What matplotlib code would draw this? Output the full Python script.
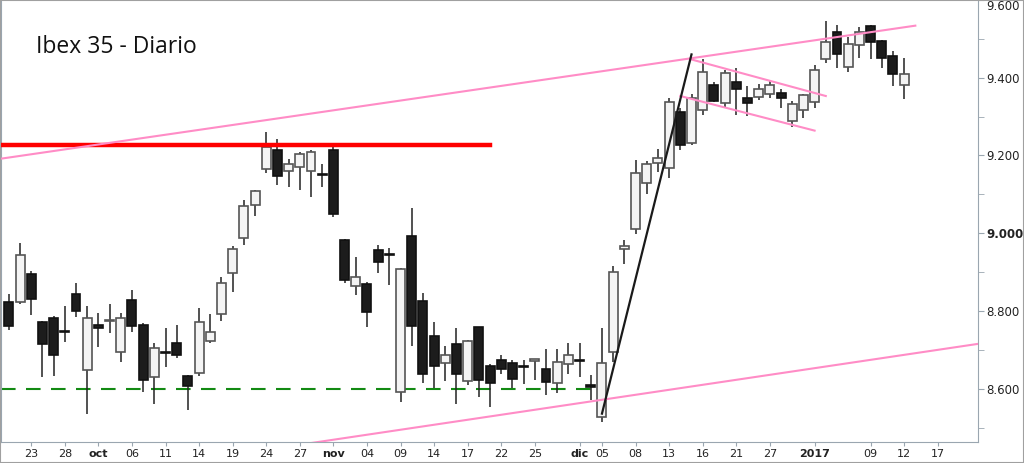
import matplotlib
matplotlib.use("Agg")
import matplotlib.pyplot as plt
import pandas as pd
from matplotlib.patches import Rectangle

# Ibex 35 daily candles, 21 Sep 2016 - 12 Jan 2017
opens = [8824, 8824, 8895, 8771, 8782, 8748, 8843, 8648, 8763, 8774,
         8694, 8828, 8764, 8630, 8694, 8717, 8633, 8641, 8724, 8791,
         8897, 8987, 9072, 9164, 9214, 9160, 9170, 9160, 9153, 9214,
         8982, 8864, 8869, 8957, 8946, 8592, 8992, 8826, 8736, 8665,
         8714, 8620, 8758, 8659, 8673, 8665, 8658, 8671, 8652, 8614,
         8664, 8675, 8609, 8528, 8695, 8959, 9012, 9128, 9180, 9168,
         9312, 9233, 9317, 9381, 9334, 9388, 9347, 9351, 9358, 9360,
         9289, 9317, 9338, 9448, 9518, 9428, 9484, 9533, 9495, 9456, 9381]
highs = [8845, 8975, 8903, 8774, 8786, 8813, 8873, 8813, 8795, 8818,
         8795, 8854, 8770, 8717, 8757, 8765, 8635, 8807, 8791, 8888,
         8967, 9085, 9110, 9261, 9242, 9192, 9210, 9214, 9179, 9222,
         8984, 8940, 8875, 8970, 8963, 8910, 9064, 8847, 8771, 8710,
         8755, 8725, 8760, 8664, 8688, 8674, 8674, 8677, 8702, 8702,
         8718, 8717, 8635, 8755, 8916, 8982, 9188, 9186, 9216, 9347,
         9323, 9358, 9449, 9390, 9420, 9424, 9379, 9383, 9394, 9371,
         9340, 9357, 9434, 9546, 9535, 9505, 9531, 9535, 9498, 9469, 9452]
lows = [8751, 8819, 8790, 8629, 8633, 8719, 8785, 8536, 8708, 8744,
        8669, 8747, 8592, 8562, 8657, 8678, 8545, 8633, 8717, 8774,
        8849, 8970, 9044, 9154, 9124, 9120, 9111, 9094, 9118, 9042,
        8871, 8841, 8758, 8898, 8867, 8567, 8710, 8614, 8603, 8620,
        8561, 8610, 8578, 8554, 8639, 8603, 8611, 8622, 8584, 8588,
        8638, 8631, 8571, 8515, 8669, 8920, 8999, 9101, 9158, 9141,
        9214, 9228, 9304, 9338, 9325, 9304, 9302, 9342, 9349, 9321,
        9274, 9297, 9323, 9437, 9424, 9415, 9451, 9447, 9426, 9379, 9345]
closes = [8762, 8944, 8830, 8714, 8688, 8745, 8801, 8783, 8755, 8776,
          8783, 8761, 8622, 8704, 8692, 8687, 8607, 8772, 8745, 8872,
          8959, 9070, 9108, 9222, 9148, 9179, 9205, 9208, 9151, 9049,
          8880, 8887, 8798, 8927, 8944, 8908, 8761, 8639, 8659, 8688,
          8638, 8723, 8622, 8614, 8652, 8626, 8656, 8676, 8618, 8668,
          8688, 8671, 8605, 8665, 8901, 8968, 9156, 9178, 9193, 9338,
          9227, 9347, 9415, 9341, 9411, 9372, 9336, 9371, 9381, 9348,
          9332, 9355, 9419, 9492, 9461, 9486, 9517, 9491, 9452, 9410, 9409]

# trading days (BME closed 26 Dec 2016); axis runs to 17 Jan 2017
days = pd.bdate_range("2016-09-21", "2017-01-17").drop(pd.Timestamp("2016-12-26"))

tick_dates = ["2016-09-23", "2016-09-28", "2016-10-03", "2016-10-06", "2016-10-11",
              "2016-10-14", "2016-10-19", "2016-10-24", "2016-10-27", "2016-11-01",
              "2016-11-04", "2016-11-09", "2016-11-14", "2016-11-17", "2016-11-22",
              "2016-11-25", "2016-12-01", "2016-12-05", "2016-12-08", "2016-12-13",
              "2016-12-16", "2016-12-21", "2016-12-27", "2017-01-02", "2017-01-09",
              "2017-01-12", "2017-01-17"]
tick_labels = ["23", "28", "oct", "06", "11", "14", "19", "24", "27", "nov", "04",
               "09", "14", "17", "22", "25", "dic", "05", "08", "13", "16", "21",
               "27", "2017", "09", "12", "17"]
bold_labels = ["oct", "nov", "dic", "2017"]

price_ticks = [8600, 8800, 9000, 9200, 9400, 9600]
price_labels = ["8.600", "8.800", "9.000", "9.200", "9.400", "9.600"]

resistance = 9228     # red line
support = 8600        # green dashed line
# trend / channel lines as (date, price) end points
chan_top = [("2016-09-20", 9192), ("2017-01-13", 9534)]
chan_bottom = [("2016-10-27", 8456), ("2017-01-23", 8718)]
flag_top = [("2016-12-15", 9447), ("2017-01-03", 9353)]
flag_bottom = [("2016-12-14", 9353), ("2017-01-02", 9264)]
rally = [("2016-12-05", 8536), ("2016-12-15", 9460)]


def pos(d):
    # position on the trading-day axis, fractional for dates off the calendar
    d = pd.Timestamp(d)
    if d < days[0]:
        return -(days[0] - d).days * 0.66
    if d > days[-1]:
        return len(days) - 1 + (d - days[-1]).days * 0.7
    return days.get_indexer([d], method="nearest")[0]


fig = plt.figure(figsize=(10.24, 4.63), dpi=100)
ax = fig.add_axes([1 / 1024, 21 / 463, 977 / 1024, 442 / 463])

x = list(range(len(opens)))
up = [c >= o for o, c in zip(opens, closes)]
body_col = ["#f4f4f4" if u else "#1c1c1c" for u in up]
edge_col = ["#555555" if u else "#111111" for u in up]
bottoms = [min(o, c) for o, c in zip(opens, closes)]
heights = [max(abs(c - o), 1.5) for o, c in zip(opens, closes)]

ax.vlines(x, lows, highs, color="#222222", lw=1.1, zorder=2)
ax.bar(x, heights, bottom=bottoms, width=0.8, color=body_col,
       edgecolor=edge_col, linewidth=1.2, zorder=3)

x0, x1 = -0.7, 86.6
ax.plot([x0, pos("2016-11-21")], [resistance] * 2, color="#ff0000", lw=3.2, zorder=4)
ax.plot([x0, pos("2016-12-05")], [support] * 2, color="#138a13", lw=1.5,
        dashes=(7, 5), zorder=1)

pink = "#ff8cc6"
for seg in (chan_top, chan_bottom, flag_top, flag_bottom):
    ax.plot([pos(d) for d, _ in seg], [p for _, p in seg], color=pink, lw=1.5, zorder=4)
ax.plot([pos(d) for d, _ in rally], [p for _, p in rally], color="#1a1a1a", lw=1.6, zorder=5)

ax.set_xlim(x0, x1)
ax.set_ylim(8463, 9600)

ax.set_xticks([pos(d) for d in tick_dates])
ax.set_xticklabels(tick_labels)
for lbl in ax.get_xticklabels():
    lbl.set_fontsize(8)
    lbl.set_color("#222222")
    if lbl.get_text() in bold_labels:
        lbl.set_fontweight("bold")
ax.tick_params(axis="x", length=3, color="#9aa6b0", pad=2)

ax.yaxis.tick_right()
ax.set_yticks(price_ticks)
ax.set_yticks([8500, 8700, 8900, 9100, 9300, 9500], minor=True)
ax.set_yticklabels(price_labels)
ax.tick_params(axis="y", which="both", length=4, color="#9aa6b0", pad=2,
               labelsize=8.5, labelcolor="#222222")
for lbl in ax.get_yticklabels():
    if lbl.get_text() == "9.000":
        lbl.set_fontweight("bold")
    if lbl.get_text() == "9.600":
        lbl.set_verticalalignment("top")

for side in ("left", "right", "bottom"):
    ax.spines[side].set_color("#9aa6b0")
ax.spines["top"].set_visible(False)

ax.text(0.036, 0.893, "Ibex 35 - Diario", transform=ax.transAxes,
        fontsize=16.5, family="Open Sans", va="center", ha="left", color="#111111")

fig.patches.append(Rectangle((0, 0), 1, 1, transform=fig.transFigure, fill=False,
                             edgecolor="#a0a0a0", lw=1.5))

fig.savefig("out.png", dpi=100)
